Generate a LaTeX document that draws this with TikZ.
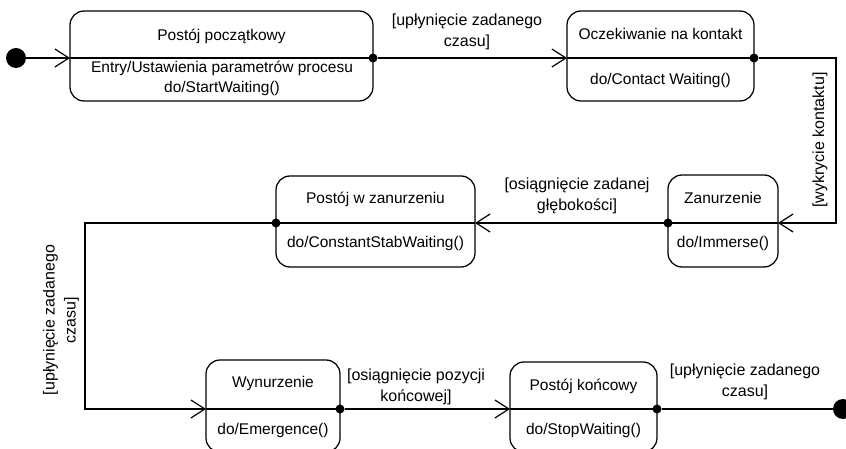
\documentclass[tikz,border=0pt]{standalone}
\usepackage{fontspec}
\setmainfont{Liberation Sans}
\usetikzlibrary{arrows.meta}
\begin{document}
\begin{tikzpicture}[x=1pt,y=-1pt, line width=1.25pt,
  statebox/.style={draw, rounded corners=14pt, anchor=north west, outer sep=0pt, inner sep=0pt},
  txt/.style={font=\fontsize{15.5}{20}\selectfont, align=center, inner sep=0pt},
  lbl/.style={font=\fontsize{16}{21}\selectfont, align=center, inner sep=0pt},
  tr/.style={-{Straight Barb[length=14pt,width=18pt,line width=1.2pt]}},
  junction/.style={circle, fill, inner sep=0pt, minimum size=9pt, outer sep=0pt},
  bigdot/.style={circle, fill, inner sep=0pt, minimum size=20pt, outer sep=0pt}
]
\useasboundingbox (0,0) rectangle (846,449);

% State 1
\node[statebox, minimum width=303pt, minimum height=90pt] (s1) at (70,11) {};
\coordinate (s1a) at (70,58); \coordinate (s1b) at (373,58);
\draw (s1a) -- (s1b);
\node[txt] (s1t) at (221.5,36) {Postój początkowy};
\node[txt] (s1d) at (222,78) {Entry/Ustawienia parametrów procesu\\do/StartWaiting()};

% State 2
\node[statebox, minimum width=187pt, minimum height=90pt] (s2) at (567,11) {};
\coordinate (s2a) at (567,58); \coordinate (s2b) at (754,58);
\draw (s2a) -- (s2b);
\node[txt] (s2t) at (660.5,34) {Oczekiwanie na kontakt};
\node[txt] (s2d) at (660.5,80) {do/Contact Waiting()};

% State 3
\node[statebox, minimum width=110pt, minimum height=92pt] (s3) at (668,175) {};
\coordinate (s3a) at (668,223); \coordinate (s3b) at (778,223);
\draw (s3a) -- (s3b);
\node[txt] (s3t) at (723,198) {Zanurzenie};
\node[txt] (s3d) at (723,243) {do/Immerse()};

% State 4
\node[statebox, minimum width=199pt, minimum height=91pt] (s4) at (276,176) {};
\coordinate (s4a) at (276,223); \coordinate (s4b) at (475,223);
\draw (s4a) -- (s4b);
\node[txt] (s4t) at (375.5,199) {Postój w zanurzeniu};
\node[txt] (s4d) at (375.5,243) {do/ConstantStabWaiting()};

% State 5
\node[statebox, minimum width=134pt, minimum height=92pt] (s5) at (206,360) {};
\coordinate (s5a) at (206,409); \coordinate (s5b) at (340,409);
\draw (s5a) -- (s5b);
\node[txt] (s5t) at (273,383) {Wynurzenie};
\node[txt] (s5d) at (273,430) {do/Emergence()};

% State 6
\node[statebox, minimum width=147pt, minimum height=90pt] (s6) at (510,362) {};
\coordinate (s6a) at (510,409); \coordinate (s6b) at (657,409);
\draw (s6a) -- (s6b);
\node[txt] (s6t) at (583.5,386) {Postój końcowy};
\node[txt] (s6d) at (583.5,430) {do/StopWaiting()};

% Initial and final
\node[bigdot] (init) at (16,58) {};
\node[bigdot] (fin) at (843,409) {};

% Junction dots
\node[junction] (j1) at (s1b) {};
\node[junction] (j2) at (s2b) {};
\node[junction] (j3) at (s3a) {};
\node[junction] (j4) at (s4a) {};
\node[junction] (j5) at (s5b) {};
\node[junction] (j6) at (s6b) {};

% Bend points
\coordinate (c1) at (836,58);
\coordinate (c2) at (85,223);

% Transitions
\draw[tr] (init) -- (s1a);
\draw[tr] (j1) -- (s2a);
\draw[tr] (j2) -- (c1) |- (s3b);
\draw[tr] (j3) -- (s4b);
\draw[tr] (j4) -- (c2) |- (s5a);
\draw[tr] (j5) -- (s6a);
\draw (j6) -- (fin);

% Labels
\node[lbl] (l1) at (467,32) {[upłynięcie zadanego\\czasu]};
\node[lbl, rotate=90] (l2) at (820,140) {[wykrycie kontaktu]};
\node[lbl] (l3) at (577,196) {[osiągnięcie zadanej\\głębokości]};
\node[lbl, rotate=90] (l4) at (61,320) {[upłynięcie zadanego\\czasu]};
\node[lbl] (l5) at (416,387) {[osiągnięcie pozycji\\końcowej]};
\node[lbl] (l6) at (745,382) {[upłynięcie zadanego\\czasu]};
\end{tikzpicture}
\end{document}
